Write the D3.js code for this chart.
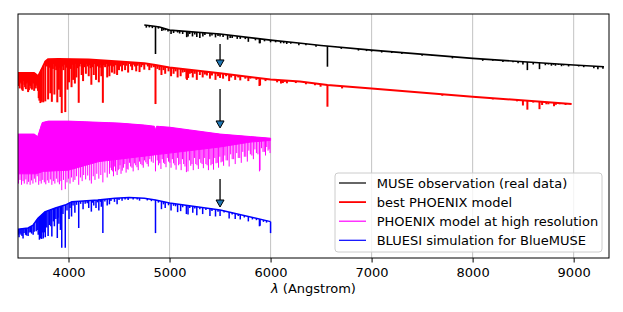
<!DOCTYPE html>
<html>
<head>
<meta charset="utf-8">
<script src="https://cdn.jsdelivr.net/npm/d3@7"></script>
<style>
	body { margin: 0; background: #fff; }
	text { font-family: "DejaVu Sans", sans-serif; }
</style>
</head>
<body>
<svg id="chart" width="623" height="312"></svg>
<script>
// x axis
const xTicks = [4000, 5000, 6000, 7000, 8000, 9000];

// MUSE observation: continuum knots [wavelength, flux + offset] and absorption lines [wavelength, bottom]
const museCont = [[4750, 9.55], [4850, 9.50], [4900, 9.47], [5000, 9.34], [5500, 9.18], [6000, 8.93], [6300, 8.80], [6500, 8.71], [7000, 8.52], [8000, 8.18], [9000, 7.91], [9300, 7.84]];
const museLines = [[4861, 8.36], [4924, 9.30], [4958, 9.33], [5015, 9.18], [5100, 9.20], [5170, 9.05], [5183, 9.08], [5227, 9.08], [5270, 9.06], [5300, 9.02], [5330, 9.08], [5400, 9.08], [5455, 9.04], [5500, 9.08], [5575, 8.95], [5600, 9.02], [5670, 8.98], [5780, 8.86], [5890, 8.80], [5896, 8.80], [6000, 8.84], [6100, 8.80], [6160, 8.77], [6280, 8.72], [6563, 7.84], [6870, 8.50], [7000, 8.46], [7200, 8.40], [7600, 8.28], [8200, 8.08], [8400, 8.02], [8498, 7.93], [8542, 7.70], [8662, 7.74], [8750, 7.93], [8800, 7.92], [8850, 7.91], [8900, 7.89], [9050, 7.85], [9240, 7.74], [9290, 7.76]];
const museWeak = [[4770, 9.44], [4800, 9.45], [4830, 9.42], [4890, 9.40], [4940, 9.33], [4985, 9.28], [5040, 9.22], [5080, 9.24], [5130, 9.18], [5200, 9.18], [5250, 9.16], [5350, 9.14], [5420, 9.12], [5480, 9.10], [5530, 9.06], [5620, 9.02], [5700, 8.98], [5750, 8.97], [5850, 8.92], [5940, 8.88], [6050, 8.84], [6130, 8.80], [6200, 8.78], [6350, 8.72], [6450, 8.66], [6700, 8.57], [6950, 8.48], [7100, 8.42], [7300, 8.36], [7500, 8.29], [7800, 8.18], [8100, 8.08], [8300, 8.03], [8450, 7.98], [8600, 7.93], [8720, 7.90], [8780, 7.88], [8820, 7.88], [8880, 7.86], [8950, 7.85], [9100, 7.82], [9200, 7.78]];

// best PHOENIX model
const phoenixCont = [[3500, 7.58], [3660, 7.58], [3700, 7.45], [3730, 7.70], [3770, 8.05], [3800, 8.15], [3900, 8.16], [4200, 8.14], [4500, 8.05], [4750, 7.98], [4861, 7.91], [5000, 7.81], [5500, 7.57], [6000, 7.32], [6290, 7.23], [6563, 7.09], [7000, 6.95], [8000, 6.61], [8980, 6.31]];
const phoenixLines = [[3510, 7.05], [3525, 7.20], [3540, 6.90], [3555, 7.25], [3570, 7.00], [3585, 7.15], [3600, 6.80], [3615, 7.10], [3630, 6.95], [3645, 7.20], [3660, 6.85], [3675, 7.05], [3690, 6.95], [3705, 6.55], [3712, 6.45], [3722, 6.35], [3734, 6.40], [3750, 6.38], [3770, 6.42], [3798, 6.50], [3820, 6.75], [3835, 6.40], [3860, 6.70], [3889, 6.38], [3905, 6.90], [3920, 6.60], [3933, 5.94], [3968, 5.98], [3990, 6.90], [4005, 7.20], [4030, 7.00], [4046, 7.30], [4063, 7.15], [4078, 7.40], [4101, 6.36], [4130, 7.50], [4144, 7.25], [4172, 7.55], [4200, 7.45], [4226, 7.10], [4250, 7.50], [4272, 7.30], [4300, 7.20], [4325, 7.45], [4340, 6.36], [4383, 7.40], [4405, 7.45], [4430, 7.60], [4455, 7.55], [4481, 7.50], [4500, 7.70], [4530, 7.65], [4560, 7.70], [4590, 7.60], [4630, 7.70], [4670, 7.65], [4703, 7.62], [4750, 7.72], [4800, 7.70], [4861, 6.31], [4920, 7.50], [4957, 7.55], [5015, 7.45], [5040, 7.55], [5080, 7.40], [5110, 7.45], [5167, 7.35], [5173, 7.30], [5184, 7.38], [5230, 7.40], [5270, 7.30], [5328, 7.40], [5400, 7.35], [5455, 7.30], [5500, 7.38], [5530, 7.35], [5590, 7.25], [5650, 7.30], [5700, 7.28], [5780, 7.25], [5890, 7.05], [5896, 7.08], [6103, 7.15], [6122, 7.17], [6162, 7.16], [6495, 7.02], [6563, 6.20], [6708, 6.95], [8498, 6.25], [8542, 6.08], [8662, 6.10], [8688, 6.27], [8750, 6.30], [8806, 6.22], [8824, 6.28]];
const phoenixWeak = [[3503, 7.10], [3517, 6.95], [3532, 7.15], [3547, 6.85], [3563, 7.10], [3578, 6.92], [3593, 7.20], [3608, 6.88], [3622, 7.05], [3638, 6.90], [3652, 7.15], [3668, 6.95], [3683, 7.10], [3698, 6.85], [3785, 7.85], [3795, 7.95], [3810, 7.80], [3825, 7.90], [3845, 7.75], [3852, 7.95], [3870, 7.85], [3878, 7.70], [3898, 7.88], [3912, 7.80], [3942, 7.85], [3950, 7.70], [3958, 7.92], [3978, 7.80], [3998, 7.95], [4012, 7.85], [4022, 7.75], [4038, 7.92], [4055, 7.80], [4070, 7.95], [4085, 7.78], [4092, 7.90], [4110, 7.85], [4120, 7.95], [4138, 7.80], [4155, 7.92], [4163, 7.82], [4180, 7.95], [4190, 7.85], [4210, 7.90], [4218, 7.78], [4235, 7.92], [4242, 7.82], [4260, 7.95], [4282, 7.85], [4290, 7.95], [4310, 7.80], [4318, 7.92], [4350, 7.90], [4362, 7.82], [4372, 7.95], [4392, 7.85], [4415, 7.88], [4422, 7.95], [4442, 7.85], [4468, 7.90], [4490, 7.92], [4510, 7.85], [4520, 7.95], [4545, 7.90], [4572, 7.88], [4600, 7.95], [4618, 7.85], [4645, 7.92], [4657, 7.85], [4685, 7.88], [4720, 7.82], [4735, 7.90], [4785, 7.85], [4820, 7.80], [4845, 7.82], [4880, 7.75], [4900, 7.70], [4940, 7.70], [4990, 7.65], [5060, 7.65], [5130, 7.60], [5150, 7.62], [5200, 7.55], [5215, 7.58], [5250, 7.55], [5300, 7.50], [5350, 7.52], [5370, 7.48], [5420, 7.48], [5480, 7.45], [5560, 7.45], [5610, 7.40], [5680, 7.40], [5750, 7.35], [5800, 7.35], [5860, 7.30], [5950, 7.25], [6065, 7.20], [6140, 7.22], [6250, 7.17], [6350, 7.12], [6440, 7.08], [7700, 6.65], [8200, 6.50], [8330, 6.48], [8440, 6.42], [8600, 6.37], [8730, 6.30], [8860, 6.30], [8920, 6.27]];

// PHOENIX model at high resolution: top, dense envelope and deepest lines
const hiresTop = [[3500, 5.08], [3660, 5.08], [3695, 4.98], [3740, 5.55], [3800, 5.61], [4000, 5.61], [4500, 5.53], [4750, 5.45], [4850, 5.40], [4861, 5.25], [4872, 5.40], [5000, 5.36], [5500, 5.08], [6000, 4.91]];
const hiresEnvelope = [[3500, 3.45], [3680, 3.45], [3750, 3.55], [4000, 3.60], [4300, 3.95], [4600, 4.10], [4900, 4.25], [5200, 4.40], [5500, 4.55], [5800, 4.75], [6000, 4.82]];
const hiresLines = [[3505, 3.05], [3520, 3.20], [3535, 3.00], [3550, 3.15], [3562, 3.05], [3578, 3.22], [3590, 3.02], [3605, 3.12], [3620, 3.00], [3634, 3.18], [3648, 3.05], [3662, 3.25], [3676, 3.10], [3690, 3.35], [3705, 3.00], [3718, 3.15], [3730, 3.05], [3745, 3.20], [3760, 3.10], [3775, 3.02], [3790, 3.18], [3805, 3.08], [3820, 3.22], [3835, 3.00], [3850, 3.15], [3865, 3.05], [3880, 3.25], [3895, 3.10], [3910, 3.02], [3925, 3.15], [3933, 2.78], [3950, 3.20], [3968, 2.82], [3985, 3.10], [4000, 3.25], [4015, 3.05], [4030, 3.30], [4046, 3.12], [4063, 3.20], [4080, 3.35], [4101, 3.00], [4118, 3.30], [4135, 3.15], [4150, 3.40], [4170, 3.22], [4190, 3.38], [4210, 3.18], [4226, 3.05], [4245, 3.35], [4262, 3.20], [4280, 3.45], [4300, 3.25], [4320, 3.40], [4340, 3.10], [4360, 3.50], [4383, 3.30], [4405, 3.45], [4425, 3.60], [4445, 3.35], [4465, 3.55], [4481, 3.40], [4500, 3.65], [4520, 3.45], [4545, 3.70], [4570, 3.50], [4590, 3.62], [4615, 3.75], [4640, 3.55], [4665, 3.80], [4690, 3.60], [4715, 3.85], [4740, 3.70], [4765, 3.92], [4790, 3.75], [4820, 3.95], [4861, 3.55], [4890, 3.80], [4915, 3.65], [4940, 3.90], [4965, 3.72], [4990, 3.95], [5015, 3.70], [5040, 3.88], [5065, 3.62], [5090, 3.80], [5115, 3.60], [5140, 3.85], [5167, 3.52], [5183, 3.55], [5210, 3.78], [5235, 3.60], [5260, 3.85], [5285, 3.65], [5310, 3.90], [5335, 3.68], [5360, 3.85], [5385, 3.60], [5410, 3.80], [5435, 3.62], [5460, 3.88], [5485, 3.70], [5510, 3.92], [5535, 3.78], [5560, 4.00], [5590, 3.75], [5620, 4.05], [5650, 3.85], [5680, 4.10], [5710, 3.90], [5740, 4.15], [5770, 3.95], [5800, 4.25], [5830, 4.05], [5860, 4.30], [5890, 3.55], [5896, 3.60], [5925, 4.35], [5950, 4.20], [5975, 4.40], [5995, 4.30]];
const hiresWeak = [[4412, 3.70], [4437, 3.55], [4457, 3.75], [4492, 3.60], [4510, 3.80], [4532, 3.58], [4557, 3.85], [4580, 3.65], [4603, 3.90], [4628, 3.70], [4652, 3.88], [4678, 3.72], [4703, 3.95], [4728, 3.80], [4752, 4.00], [4778, 3.85], [4805, 4.05], [4838, 3.90], [4878, 4.00], [4903, 3.88], [4928, 4.05], [4953, 3.85], [4978, 4.10], [5003, 3.90], [5028, 4.05], [5053, 3.80], [5078, 4.10], [5103, 3.85], [5128, 4.05], [5153, 3.75], [5197, 4.00], [5222, 3.85], [5248, 4.10], [5272, 3.80], [5298, 4.05], [5322, 3.85], [5348, 4.10], [5372, 3.80], [5398, 4.05], [5422, 3.85], [5448, 4.10], [5472, 3.90], [5498, 4.15], [5522, 3.95], [5548, 4.20], [5575, 4.00], [5605, 4.25], [5635, 4.05], [5665, 4.30], [5695, 4.10], [5725, 4.35], [5755, 4.15], [5785, 4.40], [5815, 4.20], [5845, 4.45], [5875, 4.25], [5910, 4.50], [5938, 4.35], [5962, 4.55], [5985, 4.45]];

// BLUESI simulation
const bluesiCont = [[3500, 1.18], [3600, 1.23], [3650, 1.35], [3700, 1.64], [3770, 1.90], [3870, 2.05], [3965, 2.17], [4035, 2.31], [4290, 2.38], [4460, 2.45], [4600, 2.48], [4750, 2.45], [4861, 2.38], [5000, 2.25], [5500, 1.97], [6000, 1.49]];
const bluesiLines = [[3510, 0.85], [3530, 0.95], [3550, 0.80], [3575, 0.95], [3600, 0.90], [3625, 1.05], [3650, 0.95], [3680, 1.10], [3700, 0.95], [3712, 0.75], [3722, 0.80], [3734, 0.78], [3750, 0.80], [3770, 0.85], [3798, 0.90], [3835, 0.88], [3860, 1.30], [3889, 0.82], [3905, 1.40], [3920, 1.15], [3933, 0.42], [3968, 0.42], [4005, 1.60], [4030, 1.70], [4063, 1.85], [4101, 1.23], [4144, 2.00], [4200, 2.05], [4226, 1.90], [4250, 2.15], [4272, 2.05], [4300, 1.95], [4325, 2.10], [4340, 1.02], [4383, 2.15], [4405, 2.20], [4455, 2.30], [4481, 2.20], [4530, 2.35], [4590, 2.38], [4703, 2.35], [4861, 1.02], [4920, 2.00], [4957, 2.05], [5015, 1.95], [5080, 1.88], [5110, 1.92], [5167, 1.80], [5183, 1.78], [5230, 1.85], [5270, 1.75], [5328, 1.80], [5400, 1.72], [5455, 1.70], [5500, 1.72], [5590, 1.62], [5650, 1.60], [5700, 1.58], [5780, 1.50], [5890, 1.30], [5896, 1.32], [6000, 1.02]];
const bluesiWeak = [[3505, 0.95], [3520, 1.00], [3540, 0.90], [3560, 1.02], [3585, 0.92], [3610, 1.05], [3635, 1.00], [3660, 1.08], [3690, 1.15], [3718, 1.00], [3740, 1.05], [3760, 1.05], [3785, 1.25], [3810, 1.35], [3825, 1.30], [3850, 1.50], [3875, 1.60], [3895, 1.65], [3945, 1.80], [3985, 1.95], [4015, 2.05], [4045, 2.15], [4080, 2.18], [4120, 2.22], [4165, 2.22], [4185, 2.24], [4240, 2.26], [4285, 2.28], [4315, 2.30], [4360, 2.32], [4420, 2.34], [4500, 2.38], [4560, 2.40], [4640, 2.40], [4680, 2.40], [4780, 2.36], [4820, 2.33], [4890, 2.27], [4940, 2.20], [4990, 2.16], [5040, 2.14], [5060, 2.12], [5130, 2.08], [5200, 2.05], [5250, 2.03], [5300, 2.00], [5360, 1.97], [5420, 1.93], [5480, 1.90], [5540, 1.86], [5620, 1.78], [5680, 1.72], [5740, 1.66], [5820, 1.58], [5860, 1.55], [5930, 1.48], [5960, 1.45]];

// arrows [wavelength, from, to]
const arrows = [[5500, 8.77, 7.83], [5500, 6.93, 5.33], [5500, 3.24, 2.09]];

const legendLabels = ["MUSE observation (real data)", "best PHOENIX model", "PHOENIX model at high resolution", "BLUESI simulation for BlueMUSE"];
const seriesColors = ["#000000", "#ff0000", "#ff00ff", "#0000ff"];

const margin = { top: 14, right: 14, bottom: 54, left: 18 };
const width = 623, height = 312;
const svg = d3.select("#chart");

const x = d3.scaleLinear().domain([3500, 9350]).range([margin.left, width - margin.right]);
const y = d3.scaleLinear().domain([0, 10]).range([height - margin.bottom, margin.top]);

svg.append("defs").append("clipPath").attr("id", "plotClip")
	.append("rect")
	.attr("x", margin.left).attr("y", margin.top)
	.attr("width", x.range()[1] - margin.left).attr("height", y.range()[0] - margin.top);

// grid
svg.append("g").selectAll("line").data(xTicks).join("line")
	.attr("x1", (d) => x(d)).attr("x2", (d) => x(d))
	.attr("y1", margin.top).attr("y2", y.range()[0])
	.attr("stroke", "#c8c8c8").attr("stroke-width", 1.1);

const plot = svg.append("g").attr("clip-path", "url(#plotClip)");
const line = d3.line().x((d) => x(d[0])).y((d) => y(d[1]));

function knotScale(knots) {
	return d3.scaleLinear().domain(knots.map((d) => d[0])).range(knots.map((d) => d[1])).clamp(true);
}

function drawSpectrum(cont, lines, color, lw) {
	const c = knotScale(cont);
	const g = plot.append("g").attr("fill", "none").attr("stroke", color).attr("stroke-width", lw);
	g.append("path").attr("d", line(cont)).attr("stroke-linejoin", "round");
	g.selectAll("path.ln").data(lines).join("path")
		.attr("class", "ln")
		.attr("d", (d) => line([[d[0], c(d[0])], [d[0], d[1]]]));
}

// high resolution model
(function () {
	const top = knotScale(hiresTop);
	const env = knotScale(hiresEnvelope);
	const ws = Array.from(new Set(hiresTop.map((d) => d[0]).concat(hiresEnvelope.map((d) => d[0])))).sort((a, b) => a - b);
	const area = d3.area().x((w) => x(w)).y0((w) => y(env(w))).y1((w) => y(top(w)));
	const g = plot.append("g");
	g.append("path").attr("d", area(ws)).attr("fill", "#ff00ff").attr("stroke", "#ff00ff").attr("stroke-width", 1);
	g.selectAll("path.ln").data(hiresLines.concat(hiresWeak)).join("path")
		.attr("class", "ln")
		.attr("fill", "none").attr("stroke", "#ff00ff").attr("stroke-width", 1)
		.attr("d", (d) => line([[d[0], top(d[0])], [d[0], d[1]]]));
})();

drawSpectrum(museCont, museLines.concat(museWeak), "#000000", 1.6);
drawSpectrum(phoenixCont, phoenixLines.concat(phoenixWeak), "#ff0000", 2);
drawSpectrum(bluesiCont, bluesiLines.concat(bluesiWeak), "#0000ff", 1.5);

// arrows
const arrowG = svg.append("g");
arrows.forEach((a) => {
	const ax = x(a[0]), y0 = y(a[1]), y1 = y(a[2]);
	arrowG.append("line").attr("x1", ax).attr("x2", ax).attr("y1", y0).attr("y2", y1 - 6)
		.attr("stroke", "#000").attr("stroke-width", 1.3);
	arrowG.append("path")
		.attr("d", `M${ax - 4},${y1 - 7} L${ax + 4},${y1 - 7} L${ax},${y1} Z`)
		.attr("fill", "#1f77b4").attr("stroke", "#000").attr("stroke-width", 1);
});

// x axis
const xAxis = svg.append("g")
	.attr("transform", `translate(0,${y.range()[0]})`)
	.call(d3.axisBottom(x).tickValues(xTicks).tickFormat(d3.format("d")).tickSize(4.5).tickPadding(5.3));
xAxis.select(".domain").remove();
xAxis.selectAll("text").attr("font-size", 13).attr("fill", "#000").style("font-family", "DejaVu Sans");
xAxis.selectAll("line").attr("stroke", "#000").attr("stroke-width", 1);

const xLab = svg.append("text")
	.attr("x", (x.range()[0] + x.range()[1]) / 2).attr("y", 293)
	.attr("text-anchor", "middle").attr("font-size", 13);
xLab.append("tspan").attr("font-style", "italic").text("λ");
xLab.append("tspan").text(" (Angstrom)");

// frame
svg.append("rect")
	.attr("x", margin.left).attr("y", margin.top)
	.attr("width", x.range()[1] - margin.left).attr("height", y.range()[0] - margin.top)
	.attr("fill", "none").attr("stroke", "#000").attr("stroke-width", 1);

// legend
const legend = svg.append("g").attr("transform", "translate(335,173)");
legend.append("rect")
	.attr("width", 267).attr("height", 79).attr("rx", 3)
	.attr("fill", "#fff").attr("fill-opacity", 0.8)
	.attr("stroke", "#cccccc").attr("stroke-width", 1);
const legendWidths = [1.2, 1.8, 1.2, 1.2];
const rows = legend.selectAll("g.row").data(legendLabels).join("g")
	.attr("class", "row")
	.attr("transform", (d, i) => `translate(0,${10 + i * 19.1})`);
rows.append("line").attr("x1", 4).attr("x2", 31).attr("y1", 0).attr("y2", 0)
	.attr("stroke", (d, i) => seriesColors[i]).attr("stroke-width", (d, i) => legendWidths[i]);
rows.append("text").attr("x", 41.7).attr("y", 0).attr("dy", "0.36em")
	.attr("font-size", 13).text((d) => d);
</script>
</body>
</html>
